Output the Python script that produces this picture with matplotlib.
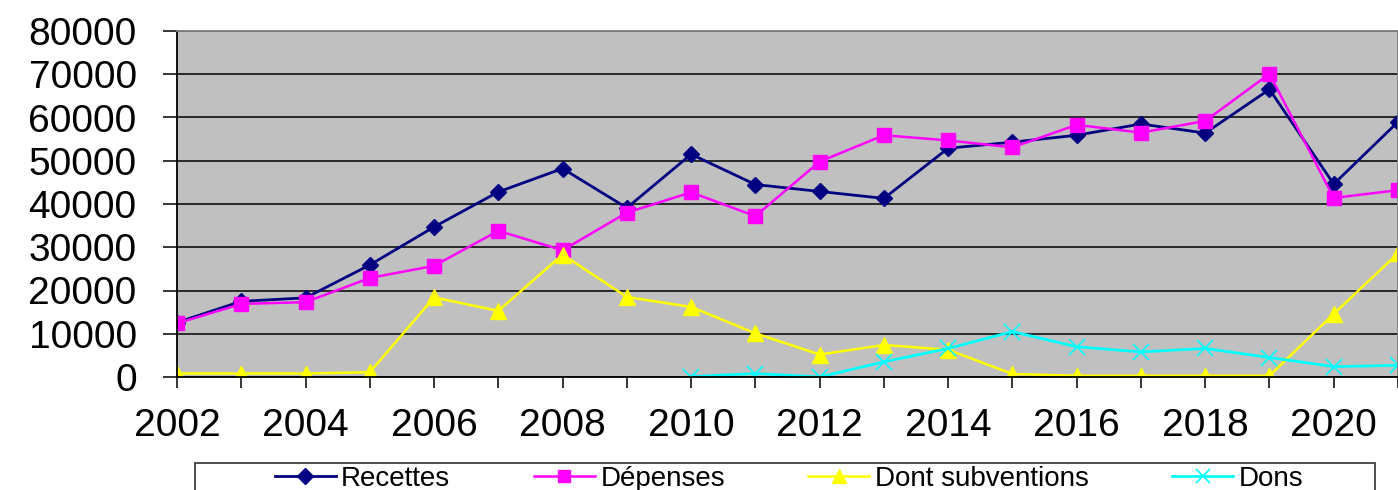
import numpy as np
import matplotlib
matplotlib.use("Agg")
import matplotlib.pyplot as plt
from matplotlib.patches import Rectangle

plt.rcParams['font.family'] = ['Liberation Sans', 'DejaVu Sans']

# data
years = list(range(2002, 2022))
recettes = [12600, 17500, 18300, 25900, 34700, 42800, 48200, 39100, 51500, 44500,
            42900, 41300, 52900, 54300, 55900, 58500, 56400, 66500, 44600, 59000]
depenses = [12400, 16900, 17300, 22900, 25700, 33800, 29300, 38000, 42700, 37200,
            49800, 55900, 54700, 53100, 58300, 56500, 59200, 70100, 41400, 43200]
subventions = [800, 800, 800, 1100, 18400, 15300, 28300, 18500, 16200, 10100,
               5200, 7400, 6300, 700, 300, 300, 300, 300, 14600, 28600]
dons = [np.nan] * 8 + [100, 800, 0, 3500, 6600, 10500, 7000, 5800, 6600, 4500, 2400, 2700]

labels = ["Recettes", "Dépenses", "Dont subventions", "Dons"]

W, H = 1398, 490
fig = plt.figure(figsize=(W / 100, H / 100), dpi=100)
ax = fig.add_axes([177 / W, 1 - 377 / H, 1 - 177 / W, (377 - 31) / H])
ax.set_facecolor('#C0C0C0')

ax.plot(years, recettes, color='#000080', lw=2.0, marker='D', ms=8.5, label=labels[0])
ax.plot(years, depenses, color='#FF00FF', lw=1.8, marker='s', ms=10, label=labels[1])
ax.plot(years, subventions, color='#FFFF00', lw=1.8, marker='^', ms=11, label=labels[2])
ax.plot(years, dons, color='#00FFFF', lw=2.0, marker='x', ms=11, mew=1.2, label=labels[3])

ax.set_xlim(2002, 2021)
ax.set_ylim(0, 80000)
ax.set_yticks(range(0, 80001, 10000))
ax.set_xticks(years)
ax.set_xticklabels([str(y) if y % 2 == 0 else '' for y in years])
ax.yaxis.grid(True, color='black', lw=1.1)
ax.set_axisbelow(True)

ax.tick_params(axis='y', labelsize=28, length=10, width=1.1, pad=19, direction='out')
ax.tick_params(axis='x', labelsize=28, length=8, width=1.1, pad=14, direction='out')
for s in ['left', 'bottom']:
    ax.spines[s].set_color('black')
    ax.spines[s].set_linewidth(1.3)
for s in ['top', 'right']:
    ax.spines[s].set_color('#808080')
    ax.spines[s].set_linewidth(1.3)

# legend box (cut by the bottom edge in the original)
fig.patches.append(Rectangle((195 / W, -0.05), (1375 - 195) / W, 0.05 + (490 - 463) / H,
                             transform=fig.transFigure, fill=False,
                             edgecolor='#404040', lw=1.3))
fig.legend(loc='center', bbox_to_anchor=(789 / W, 1 - 479 / H), ncol=4, frameon=False,
           fontsize=20, handlelength=2.2, handletextpad=0.2, columnspacing=3.0,
           borderpad=0, markerscale=0.9)

fig.savefig('out.png', dpi=100)
